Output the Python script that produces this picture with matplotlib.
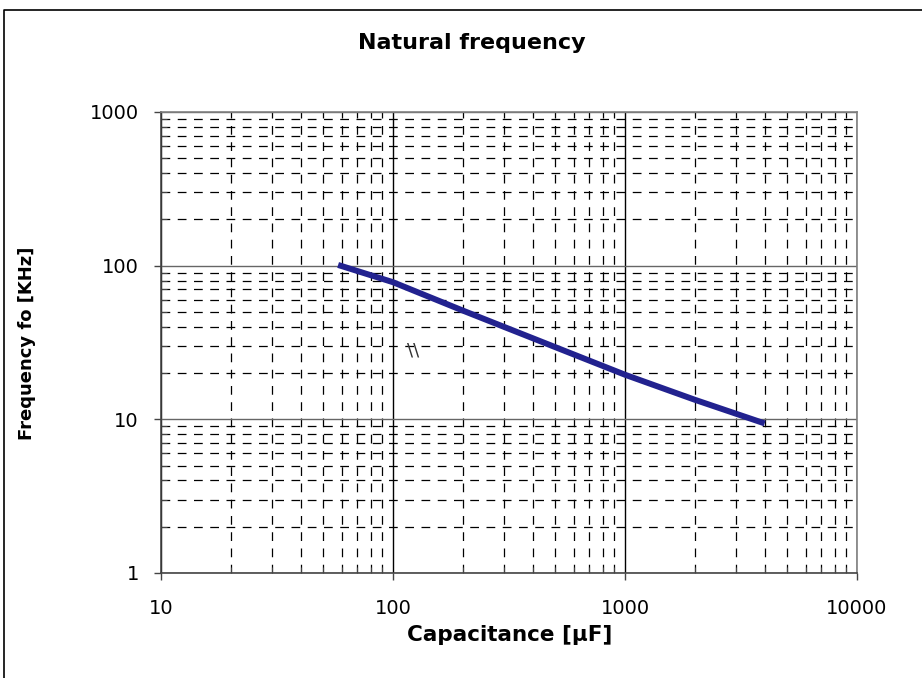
import matplotlib
matplotlib.use('Agg')
import matplotlib.pyplot as plt
import numpy as np
from matplotlib.ticker import LogLocator, FixedLocator, FixedFormatter, NullFormatter
from matplotlib.lines import Line2D

plt.rcParams['font.family'] = ['DejaVu Sans']

# values
cap_uF = [58, 100, 200, 500, 1000, 2000, 4000]
freq_kHz = [101, 78, 51, 29.5, 19.5, 13.4, 9.4]
x_ticks = [10, 100, 1000, 10000]
y_ticks = [1, 10, 100, 1000]

fig = plt.figure(figsize=(9.22, 6.78), dpi=100)
ax = fig.add_axes([0.1746, 0.1549, 0.7549, 0.68])

ax.plot(cap_uF, freq_kHz, color='#22228f', linewidth=4.3, solid_capstyle='butt')
ax.text(122, 28, '\\\\', fontsize=13, color='#333333', ha='center', va='center')

ax.set_xscale('log')
ax.set_yscale('log')
ax.set_xlim(10, 10000)
ax.set_ylim(1, 1000)

ax.xaxis.set_major_locator(FixedLocator(x_ticks))
ax.xaxis.set_major_formatter(FixedFormatter([str(v) for v in x_ticks]))
ax.yaxis.set_major_locator(FixedLocator(y_ticks))
ax.yaxis.set_major_formatter(FixedFormatter([str(v) for v in y_ticks]))
ax.xaxis.set_minor_locator(LogLocator(base=10, subs=np.arange(2, 10)))
ax.yaxis.set_minor_locator(LogLocator(base=10, subs=np.arange(2, 10)))
ax.xaxis.set_minor_formatter(NullFormatter())
ax.yaxis.set_minor_formatter(NullFormatter())

ax.grid(which='major', axis='x', color='black', linewidth=1.0, linestyle='-')
ax.grid(which='major', axis='y', color='#666666', linewidth=1.0, linestyle='-')
ax.grid(which='minor', color='black', linewidth=0.9, linestyle=(0, (7, 6)))
ax.set_axisbelow(True)

for s in ax.spines.values():
    s.set_color('#808080')
    s.set_linewidth(1.2)
ax.spines['left'].set_color('#444444')
ax.spines['bottom'].set_color('#444444')

ax.tick_params(which='major', direction='out', length=5, width=1, labelsize=14, color='#444444')
ax.tick_params(which='major', axis='x', pad=14)
ax.tick_params(which='major', axis='y', pad=11)
ax.tick_params(which='minor', direction='in', length=4, width=0.8, color='#444444')

fig.text(0.512, 0.936, 'Natural frequency', fontsize=16, fontweight='bold', ha='center', va='center')
fig.text(0.553, 0.063, 'Capacitance [µF]', fontsize=15.5, fontweight='bold', ha='center', va='center')
fig.text(0.029, 0.494, 'Frequency fo [KHz]', fontsize=13, fontweight='bold', rotation=90, ha='center', va='center')

# outer chart border (top and left edges)
fig.add_artist(Line2D([4 / 922, 4 / 922, 1.0], [0.0, 1 - 10 / 678, 1 - 10 / 678],
                      transform=fig.transFigure, color='black', linewidth=1.2))

plt.savefig('out.png', dpi=100)
